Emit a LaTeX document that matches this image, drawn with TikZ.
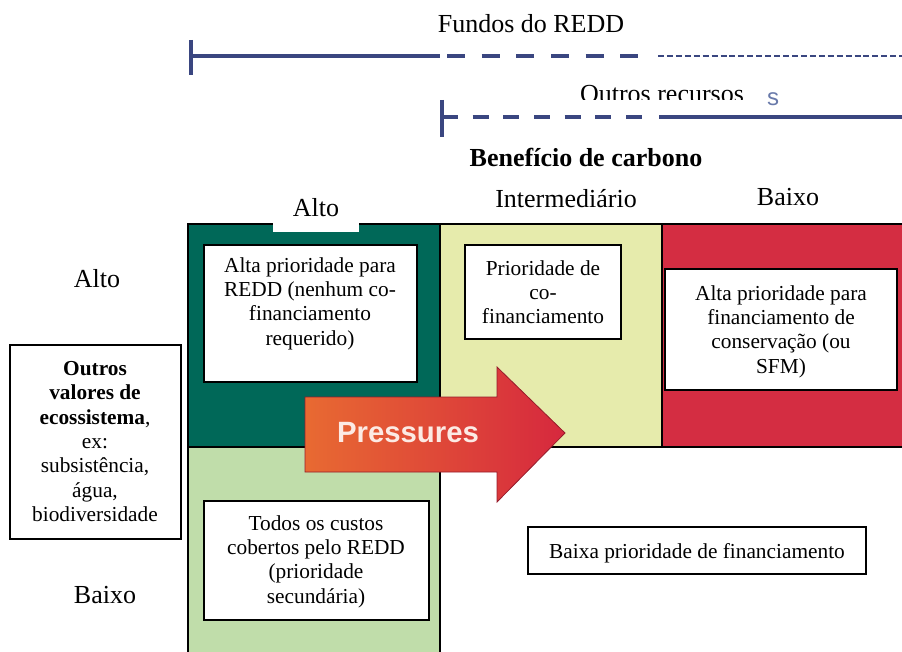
\documentclass[tikz,border=0pt]{standalone}
\usepackage{fontspec}
\setmainfont{Liberation Serif}
\setsansfont{Liberation Sans}

\definecolor{darkteal}{RGB}{0,104,88}
\definecolor{paleyellow}{RGB}{230,235,172}
\definecolor{carmine}{RGB}{212,45,66}
\definecolor{palegreen}{RGB}{192,221,170}
\definecolor{fundblue}{RGB}{58,70,128}
\definecolor{sblue}{RGB}{105,122,170}
\definecolor{arroworange}{RGB}{232,106,50}
\definecolor{arrowred}{RGB}{214,40,62}
\definecolor{presswhite}{RGB}{252,234,228}

\tikzset{
  fundline/.style={draw=fundblue, line width=2.4pt},
  region/.style={draw=black, line width=1.1pt},
  prio/.style={draw=black, fill=white, line width=1.2pt},
  headtext/.style={anchor=base, inner sep=0pt, font=\fontsize{19.5}{22}\selectfont},
  celltext/.style={anchor=north, inner sep=0pt, align=center, font=\fontsize{16}{18.3}\selectfont}
}

\begin{document}
\begin{tikzpicture}[x=0.75pt, y=-0.75pt]
%%%%%%%%%%%%%%%%%%%%%%%%%%%%%%%%%%%%%%%%%%% HELP LINES
%\draw[help lines, step=50] (0,0) grid (902,652);
\useasboundingbox (0,0) rectangle (902,652);

%%%%%%%%%%%%%%%%%%%%%%%%%%%%%%%%%%%%%%%%%%% funding lines
\node[headtext](fundos) at (531,33) {Fundos do REDD};
\draw[fundline] (191,40) -- (191,75);
\draw[fundline] (191,56) -- (440,56);
\draw[fundline, dash pattern=on 13.5pt off 12.5pt] (447,56) -- (652,56);
\draw[fundline, line width=1.7pt, dash pattern=on 4.5pt off 2.2pt] (658,56) -- (902,56);

\begin{scope}
\clip (560,70) rectangle (760,100);
\node[headtext](outros) at (662,103) {Outros recursos};
\end{scope}
\node[anchor=base, inner sep=0pt, text=sblue, font=\sffamily\fontsize{18}{18}\selectfont](sletter) at (773,106) {s};
\draw[fundline] (442,100) -- (442,137);
\draw[fundline, dash pattern=on 12pt off 11pt] (442,117) -- (652,117);
\draw[fundline] (659,117) -- (902,117);

%%%%%%%%%%%%%%%%%%%%%%%%%%%%%%%%%%%%%%%%%%% headers
\node[headtext, font=\bfseries\fontsize{19.5}{22}\selectfont](benef) at (586,167) {Benefício de carbono};
\node[headtext](colinter) at (566,208) {Intermediário};
\node[headtext](colbaixo) at (788,206) {Baixo};
\node[headtext](rowalto) at (97,287) {Alto};
\node[headtext](rowbaixo) at (105,603) {Baixo};

%%%%%%%%%%%%%%%%%%%%%%%%%%%%%%%%%%%%%%%%%%% matrix
\draw[region, fill=darkteal] (188,224) rectangle (440,447);
\draw[region, fill=paleyellow] (440,224) rectangle (662,447);
\draw[region, fill=carmine] (662,224) rectangle (906,447);
\draw[region, fill=palegreen] (188,447) rectangle (440,656);
\fill[white] (273,198) rectangle (359,232);
\node[headtext](colalto) at (316,217) {Alto};

%%%%% boxes
\draw[prio] (204,245) rectangle (417,382);
\node[celltext](altaredd) at (310,257) {Alta prioridade para\\REDD (nenhum co-\\financiamento\\requerido)};
\draw[prio] (465,245) rectangle (621,339);
\node[celltext](cofin) at (543,260) {Prioridade de\\co-\\financiamento};
\draw[prio] (665,269) rectangle (897,390);
\node[celltext](conserv) at (781,285) {Alta prioridade para\\financiamento de\\conservação (ou\\SFM)};
\draw[prio] (10,345) rectangle (181,539);
\node[celltext](outrosval) at (95,361) {\textbf{Outros}\\\textbf{valores de}\\\textbf{ecossistema},\\ex:\\subsistência,\\água,\\biodiversidade};
\draw[prio] (204,501) rectangle (429,620);
\node[celltext](todos) at (316,515) {Todos os custos\\cobertos pelo REDD\\(prioridade\\secundária)};
\draw[prio] (528,527) rectangle (866,574);
\node[celltext](baixaprio) at (697,543) {Baixa prioridade de financiamento};

%%%%% pressures arrow
\shade[left color=arroworange, right color=arrowred, draw=arrowred!70!black, line width=0.6pt]
  (305,397) -- (497,397) -- (497,367) -- (565,433) -- (497,502) -- (497,472) -- (305,472) -- cycle;
\node[anchor=base, inner sep=0pt, text=presswhite, font=\sffamily\bfseries\fontsize{22}{22}\selectfont](press) at (408,442) {Pressures};
\end{tikzpicture}
\end{document}
